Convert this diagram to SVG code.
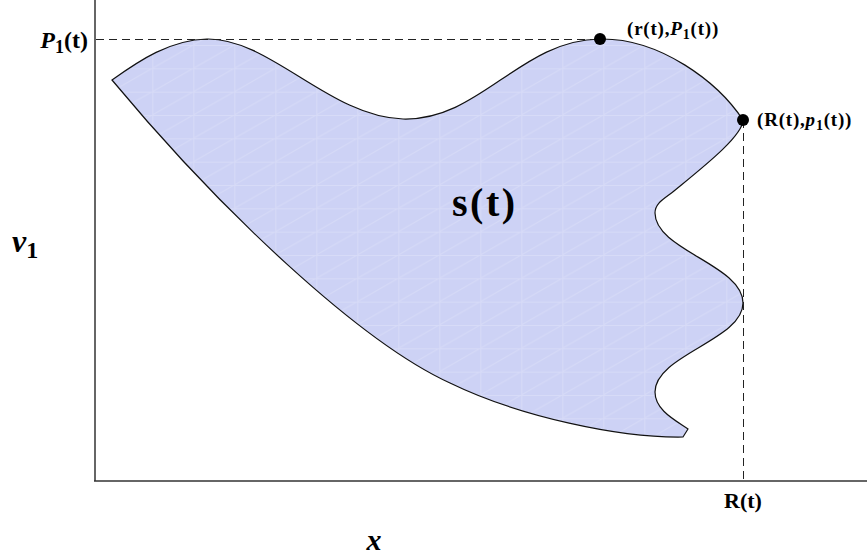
<svg xmlns="http://www.w3.org/2000/svg" width="867" height="560" viewBox="0 0 867 560">
<style>
.lbl{font-family:"Liberation Serif","Times New Roman",serif;font-weight:bold;fill:#000}
.it{font-style:italic}
.axis{stroke:#333;stroke-width:1.5;fill:none}
.dash{stroke:#222;stroke-width:1;stroke-dasharray:8,5;fill:none}
</style>
<defs>
<pattern id="mesh" patternUnits="userSpaceOnUse" x="29.3" y="21.7" width="41" height="23.33">
<path d="M0,0.5 H41 M0.5,0 V23.33 M0,23.33 L41,0" stroke="#fff" stroke-opacity="0.2" stroke-width="1" fill="none"/>
</pattern>
</defs>
<rect width="867" height="560" fill="#fff"/>
<g id="region">
<path d="M112,80 C140,60 170,40 207,39 C270,38 330,117 403,119 C480,121 520,40 600,39 C660,38 718,82 743,120 C743,136 702,168 674,191 C664,199 655,203 655,213 C655,250 743,265 743,303 C743,340 655,355 655,392 C655,410 675,420 688,429 L683,437 C620,438 520,417 450,383 C360,342 220,210 112,80 Z" fill="#cdd2f5"/>
<path d="M112,80 C140,60 170,40 207,39 C270,38 330,117 403,119 C480,121 520,40 600,39 C660,38 718,82 743,120 C743,136 702,168 674,191 C664,199 655,203 655,213 C655,250 743,265 743,303 C743,340 655,355 655,392 C655,410 675,420 688,429 L683,437 C620,438 520,417 450,383 C360,342 220,210 112,80 Z" fill="url(#mesh)" stroke="#111" stroke-width="1.2"/>
<text class="lbl" x="452" y="216" font-size="40" letter-spacing="2.5">s(t)</text>
</g>
<g id="axes">
<line class="axis" x1="95" y1="0" x2="95" y2="481"/>
<line class="axis" x1="94" y1="481" x2="867" y2="481"/>
</g>
<g id="connectors">
<line class="dash" x1="96" y1="39.5" x2="600" y2="39.5"/>
<line class="dash" x1="743.5" y1="120" x2="743.5" y2="480"/>
</g>
<g id="point-top">
<circle cx="600" cy="39" r="6" fill="#000"/>
<text class="lbl" x="627" y="35" font-size="19" letter-spacing="0.8">(r(t),<tspan class="it">P</tspan><tspan font-size="14" dy="4">1</tspan><tspan dy="-4">(t))</tspan></text>
</g>
<g id="point-right">
<circle cx="743" cy="120" r="6" fill="#000"/>
<text class="lbl" x="757" y="126" font-size="19" letter-spacing="0.8">(R(t),<tspan class="it">p</tspan><tspan font-size="14" dy="4">1</tspan><tspan dy="-4">(t))</tspan></text>
</g>
<g id="label-P">
<text class="lbl" x="88" y="48" font-size="24" text-anchor="end"><tspan class="it">P</tspan><tspan font-size="18" dy="5">1</tspan><tspan dy="-5">(t)</tspan></text>
</g>
<g id="label-R">
<text class="lbl" x="743" y="508" font-size="22" text-anchor="middle">R(t)</text>
</g>
<g id="label-v">
<text class="lbl" x="12" y="252" font-size="32"><tspan class="it">v</tspan><tspan font-size="24" dy="6">1</tspan></text>
</g>
<g id="label-x">
<text class="lbl it" x="374" y="550" font-size="30" text-anchor="middle">x</text>
</g>
</svg>
